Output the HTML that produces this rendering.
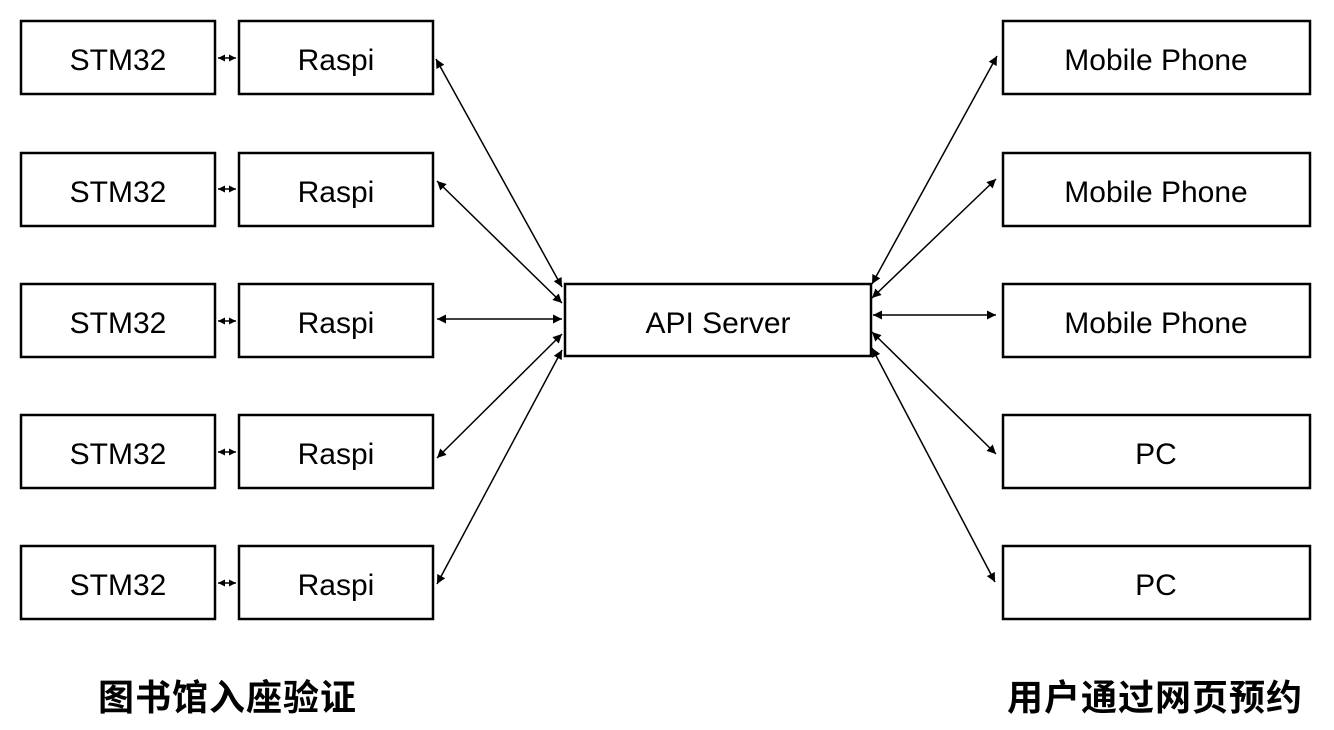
<!DOCTYPE html>
<html><head><meta charset="utf-8"><style>
html,body{margin:0;padding:0;background:#fff;}
svg{display:block}
text{font-family:"Liberation Sans","Noto Sans CJK SC",sans-serif;fill:#000}
</style></head><body>
<svg width="1334" height="730" viewBox="0 0 1334 730" xmlns="http://www.w3.org/2000/svg">
<defs>
<marker id="a" viewBox="0 0 10 10" refX="10" refY="5" markerWidth="9" markerHeight="9" markerUnits="userSpaceOnUse" orient="auto-start-reverse">
<path d="M0,0 L10,5 L0,10 z" fill="#000"/></marker>
<marker id="s" viewBox="0 0 10 10" refX="10" refY="5" markerWidth="7" markerHeight="7" markerUnits="userSpaceOnUse" orient="auto-start-reverse">
<path d="M0,0 L10,5 L0,10 z" fill="#000"/></marker>
</defs>
<g fill="none" stroke="#000" stroke-width="2.5">
<rect x="21" y="21" width="194" height="73"/><rect x="239" y="21" width="194" height="73"/>
<rect x="21" y="153" width="194" height="73"/><rect x="239" y="153" width="194" height="73"/>
<rect x="21" y="284" width="194" height="73"/><rect x="239" y="284" width="194" height="73"/>
<rect x="21" y="415" width="194" height="73"/><rect x="239" y="415" width="194" height="73"/>
<rect x="21" y="546" width="194" height="73"/><rect x="239" y="546" width="194" height="73"/>
<rect x="565" y="284" width="306" height="72"/>
<rect x="1003" y="21" width="307" height="73"/>
<rect x="1003" y="153" width="307" height="73"/>
<rect x="1003" y="284" width="307" height="73"/>
<rect x="1003" y="415" width="307" height="73"/>
<rect x="1003" y="546" width="307" height="73"/>
</g>
<g stroke="#000" stroke-width="1.5" fill="none">
<line x1="218" y1="58" x2="236" y2="58" marker-start="url(#s)" marker-end="url(#s)"/>
<line x1="218" y1="189" x2="236" y2="189" marker-start="url(#s)" marker-end="url(#s)"/>
<line x1="218" y1="321" x2="236" y2="321" marker-start="url(#s)" marker-end="url(#s)"/>
<line x1="218" y1="452" x2="236" y2="452" marker-start="url(#s)" marker-end="url(#s)"/>
<line x1="218" y1="583" x2="236" y2="583" marker-start="url(#s)" marker-end="url(#s)"/>

<line x1="436" y1="59" x2="562" y2="287" marker-start="url(#a)" marker-end="url(#a)"/>
<line x1="437" y1="181" x2="562" y2="303" marker-start="url(#a)" marker-end="url(#a)"/>
<line x1="437" y1="319" x2="562" y2="319" marker-start="url(#a)" marker-end="url(#a)"/>
<line x1="437" y1="458" x2="562" y2="334" marker-start="url(#a)" marker-end="url(#a)"/>
<line x1="437" y1="584" x2="562" y2="350" marker-start="url(#a)" marker-end="url(#a)"/>

<line x1="872" y1="284" x2="997" y2="56" marker-start="url(#a)" marker-end="url(#a)"/>
<line x1="872" y1="298" x2="996" y2="179" marker-start="url(#a)" marker-end="url(#a)"/>
<line x1="873" y1="315" x2="996" y2="315" marker-start="url(#a)" marker-end="url(#a)"/>
<line x1="872" y1="332" x2="996" y2="454" marker-start="url(#a)" marker-end="url(#a)"/>
<line x1="872" y1="348" x2="995" y2="582" marker-start="url(#a)" marker-end="url(#a)"/>
</g>
<g font-size="30" text-anchor="middle">
<text x="118" y="70">STM32</text><text x="336" y="70">Raspi</text>
<text x="118" y="202">STM32</text><text x="336" y="202">Raspi</text>
<text x="118" y="333">STM32</text><text x="336" y="333">Raspi</text>
<text x="118" y="464">STM32</text><text x="336" y="464">Raspi</text>
<text x="118" y="595">STM32</text><text x="336" y="595">Raspi</text>
<text x="718" y="333">API Server</text>
<text x="1156" y="70">Mobile Phone</text>
<text x="1156" y="202">Mobile Phone</text>
<text x="1156" y="333">Mobile Phone</text>
<text x="1156" y="464">PC</text>
<text x="1156" y="595">PC</text>
</g>
<g font-size="36" font-weight="bold" letter-spacing="1">
<text x="98" y="710">图书馆入座验证</text>
<text x="1007" y="710">用户通过网页预约</text>
</g>
</svg>
</body></html>
